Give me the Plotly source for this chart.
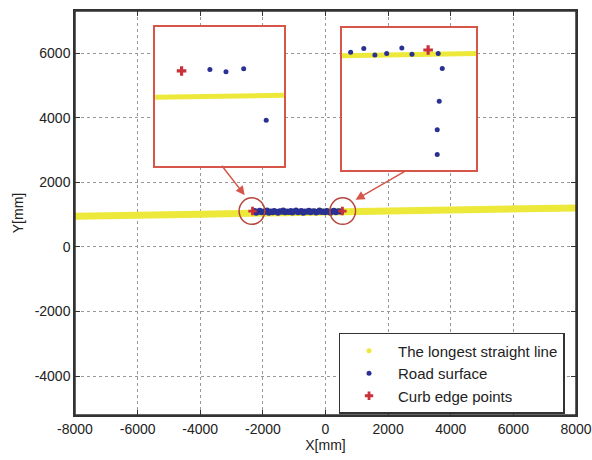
import plotly.graph_objects as go

# Axis ticks
x_ticks = [-8000, -6000, -4000, -2000, 0, 2000, 4000, 6000, 8000]
x_ticklabels = ['-8000', '-6000', '-4000', '-2000', '0', '2000', '4000', '6000', '8000']
y_ticks = [-4000, -2000, 0, 2000, 4000, 6000]
y_ticklabels = ['-4000', '-2000', '0', '2000', '4000', '6000']

# Main plot data (mm)
line_x = [-8000, -6500, -6000, -4000, -2300, 600, 2000, 4000, 6000, 7000, 8000]
line_y = [950, 955, 985, 1015, 1045, 1100, 1140, 1160, 1180, 1200, 1205]

road_x = [-2260, -2210, -2150, -2100, -2040, -1980, -1920, -1870, -1810, -1750,
          -1690, -1640, -1580, -1520, -1460, -1400, -1350, -1290, -1230, -1170,
          -1110, -1060, -1000, -940, -880, -820, -770, -710, -650, -590,
          -530, -480, -420, -360, -300, -240, -190, -130, -70, -10,
          40, 100, 160, 210, 270, 330, 390, 440, 500]
road_y = [1110, 1060, 1090, 1120, 1070, 1100, 1080, 1130, 1060, 1095,
          1075, 1115, 1085, 1060, 1105, 1090, 1125, 1070, 1100, 1080,
          1110, 1065, 1095, 1130, 1075, 1090, 1115, 1060, 1100, 1085,
          1120, 1070, 1095, 1105, 1065, 1090, 1125, 1080, 1100, 1070,
          1110, 1085, 1060, 1100, 1120, 1075, 1095, 1105, 1090]

curb_x = [-2330, 540]
curb_y = [1110, 1110]

# Zoomed insets (mm)
in1_line_x = [-2400, -2000]
in1_line_y = [1099, 1102]
in1_road_x = [-2230, -2180, -2125, -2055]
in1_road_y = [1139, 1136, 1140, 1066]
in1_curb_x = [-2318]
in1_curb_y = [1137]

in2_line_x = [400, 800]
in2_line_y = [1161, 1164]
in2_road_x = [427, 466, 499, 534, 579, 609, 687, 699, 690, 684, 684]
in2_road_y = [1166, 1171, 1162, 1164, 1172, 1163, 1164, 1143, 1097, 1057, 1022]
in2_curb_x = [657]
in2_curb_y = [1169]

YEL = '#ede93a'
BLU = '#2a3192'
RED = '#c8303a'
BOX = '#d6564a'

fig = go.Figure()

fig.add_trace(go.Scatter(x=line_x, y=line_y, mode='lines',
                         line=dict(color=YEL, width=7), showlegend=False))
fig.add_trace(go.Scatter(x=road_x, y=road_y, mode='markers',
                         marker=dict(color=BLU, size=6), showlegend=False))
fig.add_trace(go.Scatter(x=curb_x, y=curb_y, mode='markers',
                         marker=dict(color=RED, size=7, symbol='cross'), showlegend=False))

# legend entries
fig.add_trace(go.Scatter(x=[None], y=[None], mode='markers', name='The longest straight line',
                         marker=dict(color=YEL, size=5), legendgroup='a'))
fig.add_trace(go.Scatter(x=[None], y=[None], mode='markers', name='Road surface',
                         marker=dict(color=BLU, size=5), legendgroup='b'))
fig.add_trace(go.Scatter(x=[None], y=[None], mode='markers', name='Curb edge points',
                         marker=dict(color=RED, size=7, symbol='cross'), legendgroup='c'))

# inset 1
fig.add_trace(go.Scatter(x=in1_line_x, y=in1_line_y, mode='lines', xaxis='x2', yaxis='y2',
                         line=dict(color=YEL, width=5), showlegend=False))
fig.add_trace(go.Scatter(x=in1_road_x, y=in1_road_y, mode='markers', xaxis='x2', yaxis='y2',
                         marker=dict(color=BLU, size=5), showlegend=False))
fig.add_trace(go.Scatter(x=in1_curb_x, y=in1_curb_y, mode='markers', xaxis='x2', yaxis='y2',
                         marker=dict(color=RED, size=8, symbol='cross'), showlegend=False))
# inset 2
fig.add_trace(go.Scatter(x=in2_line_x, y=in2_line_y, mode='lines', xaxis='x3', yaxis='y3',
                         line=dict(color=YEL, width=5), showlegend=False))
fig.add_trace(go.Scatter(x=in2_road_x, y=in2_road_y, mode='markers', xaxis='x3', yaxis='y3',
                         marker=dict(color=BLU, size=5), showlegend=False))
fig.add_trace(go.Scatter(x=in2_curb_x, y=in2_curb_y, mode='markers', xaxis='x3', yaxis='y3',
                         marker=dict(color=RED, size=8, symbol='cross'), showlegend=False))

axis_font = dict(family='Liberation Sans, Arial', size=14, color='#222')
main_ax = dict(showline=True, linecolor='#333', linewidth=1.5, mirror='ticks',
               ticks='inside', ticklen=5, tickcolor='#333', showgrid=True,
               gridcolor='#999', griddash='dot', gridwidth=1, zeroline=False,
               tickfont=axis_font, automargin=False, ticklabeloverflow='allow')
inset_ax = dict(showline=True, linecolor=BOX, linewidth=2, mirror=True, ticks='',
                showticklabels=False, showgrid=False, zeroline=False)

fig.update_layout(
    width=592, height=460,
    margin=dict(l=75, r=16, t=11, b=45),
    paper_bgcolor='white', plot_bgcolor='white',
    xaxis=dict(main_ax, range=[-8000, 8000], tickvals=x_ticks, ticktext=x_ticklabels,
               title=dict(text='X[mm]', font=axis_font, standoff=5)),
    yaxis=dict(main_ax, range=[-5200, 7300], tickvals=y_ticks, ticktext=y_ticklabels,
               title=dict(text='Y[mm]', font=axis_font, standoff=8)),
    xaxis2=dict(inset_ax, domain=[0.16, 0.417], range=[-2400, -2000], anchor='y2'),
    yaxis2=dict(inset_ax, domain=[0.616, 0.96], range=[1000, 1200], anchor='x2'),
    xaxis3=dict(inset_ax, domain=[0.532, 0.801], range=[400, 800], anchor='y3'),
    yaxis3=dict(inset_ax, domain=[0.606, 0.958], range=[1000, 1200], anchor='x3'),
    legend=dict(x=0.526, y=0.203, xanchor='left', yanchor='top',
                bgcolor='white', bordercolor='#333', borderwidth=1.5,
                font=dict(family='Liberation Sans, Arial', size=15, color='#222'),
                itemwidth=48, tracegroupgap=0, traceorder='grouped'),
    shapes=[
        dict(type='rect', xref='paper', yref='paper', x0=0, x1=1, y0=0, y1=1,
             line=dict(color='#333', width=1.5), layer='above'),
        dict(type='circle', xref='x', yref='y', x0=-2760, x1=-1940, y0=700, y1=1520,
             line=dict(color='#b5463c', width=1.5)),
        dict(type='circle', xref='x', yref='y', x0=140, x1=960, y0=700, y1=1520,
             line=dict(color='#b5463c', width=1.5)),
    ],
    annotations=[
        dict(x=-2580, y=1600, xref='x', yref='y', ax=-24, ay=-31, text='',
             showarrow=True, arrowhead=2, arrowsize=1.2, arrowwidth=1.5, arrowcolor=BOX),
        dict(x=960, y=1460, xref='x', yref='y', ax=52, ay=-30, text='',
             showarrow=True, arrowhead=2, arrowsize=1.2, arrowwidth=1.5, arrowcolor=BOX),
    ],
)

fig.write_html('out.html', config={'displayModeBar': False},
               post_script="document.body.style.margin='0';")
